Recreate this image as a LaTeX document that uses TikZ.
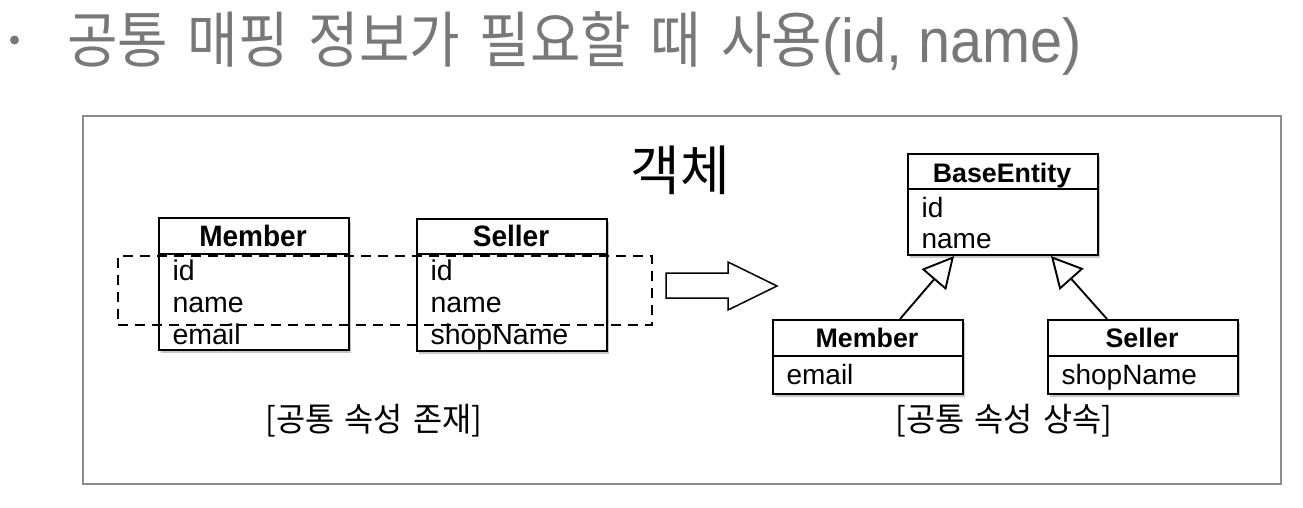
\documentclass[tikz,border=0pt]{standalone}
\usepackage{fontspec}
\setmainfont{Liberation Sans}
\newfontfamily\kr{Noto Sans CJK KR}
\newfontfamily\krtitle[FakeStretch=0.9, WordSpace=1.6]{Noto Sans CJK KR}
\newfontfamily\krlbl[FakeStretch=0.96, WordSpace=1.4]{Noto Sans CJK KR}
\newfontfamily\lattitle[FakeStretch=0.93]{Liberation Sans}
\newfontfamily\hdrfont[FakeStretch=0.95]{Liberation Sans}
\usetikzlibrary{arrows.meta,shadows,calc}
\definecolor{titlegray}{HTML}{787878}
\definecolor{framegray}{HTML}{8C8C8C}
\begin{document}
\begin{tikzpicture}[x=1pt,y=-1pt,
  umlbox/.style={draw=black, line width=2.1pt, fill=white, inner sep=0pt, anchor=north west,
    drop shadow={shadow xshift=2pt, shadow yshift=-3pt, opacity=0.22, fill=black}},
  hdrL/.style={anchor=base, font=\hdrfont\fontsize{29.5}{30}\selectfont\bfseries},
  itmL/.style={anchor=base west, font=\fontsize{28.5}{30}\selectfont},
  hdrR/.style={anchor=base, font=\fontsize{26.8}{30}\selectfont\bfseries},
  itmR/.style={anchor=base west, font=\fontsize{28}{30}\selectfont},
  sepline/.style={line width=2.1pt},
  inherit/.style={line width=1.9pt, -{Triangle[open, length=31pt, width=32pt, line width=1.9pt]}},
  lbl/.style={font=\krlbl\fontsize{33}{36}\selectfont},
]
\useasboundingbox (0,0) rectangle (1303,507);
\fill[white] (0,0) rectangle (1303,507);

% title
\node[circle, fill=titlegray, inner sep=0pt, minimum size=9pt] (bullet) at (14.5,40) {};
\node[anchor=base west, text=titlegray, inner sep=0pt] (title) at (67,62)
  {\krtitle\fontsize{61}{64}\selectfont 공통 매핑 정보가 필요할 때 사용\lattitle\fontsize{62}{64}\selectfont(id, name)};

% frame
\node[draw=framegray, line width=1.5pt, inner sep=0pt, anchor=north west, minimum width=1198pt, minimum height=368pt] (frame) at (82,115) {};

\node[font=\kr\fontsize{54}{60}\selectfont, inner sep=0pt] (obj) at (680,170) {객체};

% left Member
\node[umlbox, minimum width=190pt, minimum height=132pt] (m1) at (158,217) {};
\draw[sepline] (158,254) -- (348,254);
\node[hdrL] (m1h) at (253,246) {Member};
\node[itmL] (m1a) at (169,280) {id};
\node[itmL] (m1b) at (169,312) {name};
\node[itmL] (m1c) at (169,344) {email};

% left Seller
\node[umlbox, minimum width=190pt, minimum height=132pt] (s1) at (416,218) {};
\draw[sepline] (416,254) -- (606,254);
\node[hdrL] (s1h) at (511,246) {Seller};
\node[itmL] (s1a) at (427,280) {id};
\node[itmL] (s1b) at (427,312) {name};
\node[itmL] (s1c) at (427,344) {shopName};

% dashed grouping
\node[draw, dash pattern=on 10pt off 7pt, line width=1.8pt, inner sep=0pt, anchor=north west, minimum width=534pt, minimum height=69pt] (grp) at (117,255) {};

% hollow arrow
\draw[line width=1.5pt, line join=miter] (666,273) -- (728,273) -- (728,262) -- (777,286) -- (728,310) -- (728,298) -- (666,298) -- cycle;

% BaseEntity
\node[umlbox, minimum width=190pt, minimum height=101pt] (base) at (907,153) {};
\draw[sepline] (907,189) -- (1097,189);
\node[hdrR] (bh) at (1002,182) {BaseEntity};
\node[itmR] (ba) at (918,217) {id};
\node[itmR] (bb) at (918,248) {name};

% right Member
\node[umlbox, minimum width=190pt, minimum height=74pt] (m2) at (772,319) {};
\draw[sepline] (772,356) -- (962,356);
\node[hdrR] (m2h) at (867,347) {Member};
\node[itmR] (m2a) at (783,384) {email};

% right Seller
\node[umlbox, minimum width=190pt, minimum height=74pt] (s2) at (1047,319) {};
\draw[sepline] (1047,356) -- (1237,356);
\node[hdrR] (s2h) at (1142,347) {Seller};
\node[itmR] (s2a) at (1058,384) {shopName};

% inheritance
\draw[inherit] ($(m2.north west)+(128,0)$) -- ($(base.south west)+(47,0)$);
\draw[inherit] ($(s2.north west)+(60,0)$) -- ($(base.south west)+(144,0)$);

% labels
\node[lbl] (l1) at (374,421) {[공통 속성 존재]};
\node[lbl] (l2) at (1004,421) {[공통 속성 상속]};
\end{tikzpicture}
\end{document}
